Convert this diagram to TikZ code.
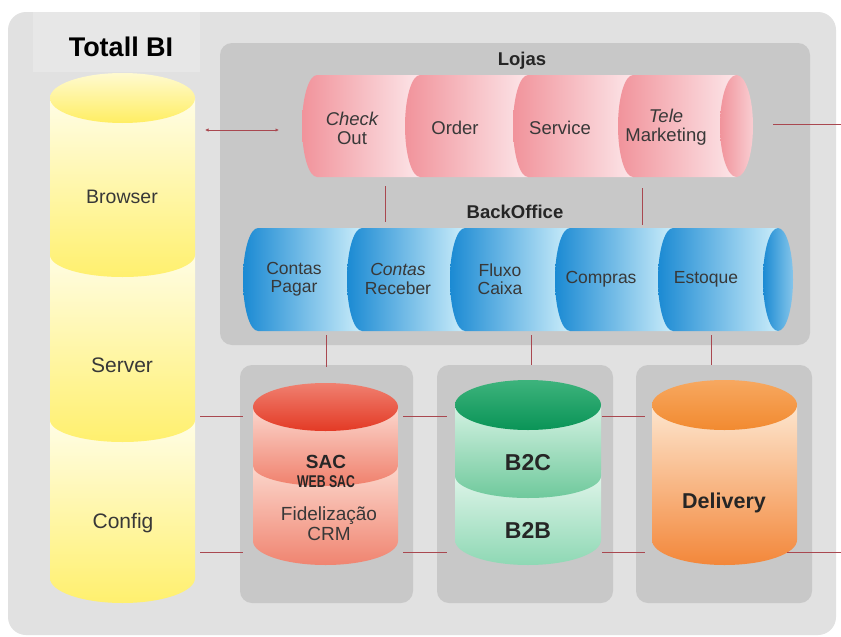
\documentclass[tikz,border=0pt]{standalone}
\usepackage{fontspec}
\setmainfont{Liberation Sans}
\usetikzlibrary{arrows.meta}
\definecolor{outerbg}{HTML}{E1E1E1}
\definecolor{labelbg}{HTML}{E7E7E7}
\definecolor{panel}{HTML}{C8C8C8}
\definecolor{linkc}{HTML}{A94850}
\definecolor{txt}{HTML}{383838}
\definecolor{pinkD}{HTML}{F1939B}
\definecolor{pinkL}{HTML}{FCE6E9}
\definecolor{blueD}{HTML}{1B8AD3}
\definecolor{blueL}{HTML}{CBEDFA}
\definecolor{yelT}{HTML}{FFFDE6}
\definecolor{yelB}{HTML}{FFF06E}
\definecolor{yelTopT}{HTML}{FFFAD0}
\definecolor{yelTopB}{HTML}{FFEE62}
\definecolor{sacLT}{HTML}{FCDCD2}
\definecolor{sacLB}{HTML}{F08470}
\definecolor{sacUT}{HTML}{FBD8CF}
\definecolor{sacUB}{HTML}{F0806C}
\definecolor{sacTT}{HTML}{F08070}
\definecolor{sacTB}{HTML}{E33A25}
\definecolor{grLT}{HTML}{E3F6EC}
\definecolor{grLB}{HTML}{8ED8B4}
\definecolor{grUT}{HTML}{D5F2E3}
\definecolor{grUB}{HTML}{6FC99C}
\definecolor{grTT}{HTML}{3DB37C}
\definecolor{grTB}{HTML}{0A9457}
\definecolor{orT}{HTML}{FDE6CF}
\definecolor{orB}{HTML}{F3873A}
\definecolor{orTT}{HTML}{F7A860}
\definecolor{orTB}{HTML}{F28A30}
\newcommand\hseg[7]{%
  \shade[left color=#6, right color=#7] ({#1+#5},#3) arc[start angle=270, end angle=90, x radius=#5, y radius={(#4-#3)/2}] -- (#2,#4) -- (#2,#3) -- cycle;}
\newcommand\vsec[7]{%
  \shade[top color=#6, bottom color=#7] ({#1-#2},#3) -- ({#1-#2},#4) arc[start angle=180, end angle=0, x radius=#2, y radius=#5] -- ({#1+#2},#3) -- cycle;}
\tikzset{
  link/.style={draw=linkc, line width=1pt},
  lbl/.style={text=txt, font=\fontsize{18.5}{19}\selectfont, align=center, inner sep=0pt},
  lblb/.style={text=txt, font=\fontsize{17.5}{18.5}\selectfont, align=center, inner sep=0pt},
  hdr/.style={text=black!85, font=\bfseries\fontsize{18.5}{19}\selectfont, inner sep=0pt},
  big/.style={text=black!85, font=\bfseries\fontsize{23}{24}\selectfont, inner sep=0pt},
}
\begin{document}
\begin{tikzpicture}[x=1pt,y=-1pt]
\useasboundingbox (0,0) rectangle (841,637);
\fill[white] (0,0) rectangle (841,637);
\fill[outerbg, rounded corners=18pt] (8,12) rectangle (836,635);
\fill[labelbg] (33,12) rectangle (200,72);
\fill[panel, rounded corners=12pt] (220,43) rectangle (810,345);
\fill[panel, rounded corners=12pt] (240,365) rectangle (413,603);
\fill[panel, rounded corners=12pt] (437,365) rectangle (613,603);
\fill[panel, rounded corners=12pt] (636,365) rectangle (812,603);

% Yellow cylinder
\vsec{122.5}{72.5}{420}{578}{25}{yelT}{yelB}
\vsec{122.5}{72.5}{250}{420}{22}{yelT}{yelB}
\vsec{122.5}{72.5}{98}{255}{22}{yelT}{yelB}
\shade[top color=yelTopT, bottom color=yelTopB] (122.5,98) ellipse [x radius=72.5, y radius=25];

% Lojas cylinder
\hseg{302}{420}{75}{177}{15}{pinkD}{pinkL}
\hseg{405}{528}{75}{177}{15}{pinkD}{pinkL}
\hseg{513}{633}{75}{177}{15}{pinkD}{pinkL}
\hseg{618}{736.5}{75}{177}{15}{pinkD}{pinkL}
\shade[left color=pinkD, right color=pinkL!70!pinkD] (736.5,126) ellipse [x radius=16.5, y radius=51];

% BackOffice cylinder
\hseg{243}{362}{228}{331}{15}{blueD}{blueL}
\hseg{347}{465}{228}{331}{15}{blueD}{blueL}
\hseg{450}{570}{228}{331}{15}{blueD}{blueL}
\hseg{555}{673}{228}{331}{15}{blueD}{blueL}
\hseg{658}{778}{228}{331}{15}{blueD}{blueL}
\shade[left color=blueD, right color=blueL!60!blueD] (778,279.5) ellipse [x radius=15, y radius=51.5];

% SAC cylinder
\vsec{325.5}{72.5}{460}{541}{24}{sacLT}{sacLB}
\vsec{325.5}{72.5}{407}{466}{20}{sacUT}{sacUB}
\shade[top color=sacTT, bottom color=sacTB] (325.5,407) ellipse [x radius=72.5, y radius=24];

% B2C cylinder
\vsec{528}{73}{470}{540}{25}{grLT}{grLB}
\vsec{528}{73}{405}{476}{22}{grUT}{grUB}
\shade[top color=grTT, bottom color=grTB] (528,405) ellipse [x radius=73, y radius=25];

% Delivery cylinder
\vsec{724.5}{72.5}{405}{540}{25}{orT}{orB}
\shade[top color=orTT, bottom color=orTB] (724.5,405) ellipse [x radius=72.5, y radius=25];

% Texts
\node[font=\bfseries\fontsize{27}{28}\selectfont, inner sep=0pt] (title) at (121,47) {Totall BI};
\node[hdr] (lojas) at (522,61) {Lojas};
\node[hdr] (backoffice) at (515,212) {BackOffice};
\node[lbl] (checkout) at (352,128) {{\itshape Check}\\Out};
\node[lbl] (order) at (455,128) {Order};
\node[lbl] (service) at (560,128) {Service};
\node[lbl] (tele) at (666,127) {{\itshape Tele}\\Marketing};
\node[lblb] (pagar) at (294,279) {Contas\\Pagar};
\node[lblb] (receber) at (398,279) {{\itshape Contas}\\Receber};
\node[lblb] (fluxo) at (500,279) {Fluxo\\Caixa};
\node[lblb] (compras) at (601,279) {Compras};
\node[lblb] (estoque) at (706,279) {Estoque};
\node[lbl, font=\fontsize{19.5}{20}\selectfont] (browser) at (122,197) {Browser};
\node[lbl, font=\fontsize{21}{22}\selectfont] (server) at (122,365) {Server};
\node[lbl, font=\fontsize{21}{22}\selectfont] (config) at (123,523) {Config};
\node[hdr, font=\bfseries\fontsize{19}{20}\selectfont] (sac) at (326,462) {SAC};
\node[hdr, font=\bfseries\fontsize{17}{18}\selectfont] (websac) at (326,482) {\scalebox{0.72}[1]{WEB SAC}};
\node[lbl, font=\fontsize{19}{20}\selectfont] (fidel) at (329,524) {Fidelização\\CRM};
\node[big] (b2c) at (528,463) {B2C};
\node[big] (b2b) at (528,530) {B2B};
\node[big, font=\bfseries\fontsize{21.5}{22}\selectfont] (delivery) at (724,503) {Delivery};

% Connector end points
\coordinate (brR) at (205,130);
\coordinate (coL) at (279,130);
\coordinate (coB) at (385,186);
\coordinate (bo1) at (385,222);
\coordinate (tmB) at (642,188);
\coordinate (bo2) at (642,225);
\coordinate (loR) at (773,124);
\coordinate (exR) at (841,124);
\coordinate (boS) at (326,335);
\coordinate (sacT) at (326,367);
\coordinate (boC) at (531,335);
\coordinate (b2cT) at (531,365);
\coordinate (boD) at (711,335);
\coordinate (delT) at (711,365);
\coordinate (yS1) at (200,416);
\coordinate (sacL1) at (243,416);
\coordinate (yS2) at (200,552);
\coordinate (sacL2) at (243,552);
\coordinate (sacR1) at (403,416);
\coordinate (b2cL1) at (447,416);
\coordinate (sacR2) at (403,552);
\coordinate (b2cL2) at (447,552);
\coordinate (b2cR1) at (602,416);
\coordinate (delL1) at (645,416);
\coordinate (b2cR2) at (602,552);
\coordinate (delL2) at (645,552);
\coordinate (delR) at (787,552);
\coordinate (exR2) at (841,552);

\draw[link, {Latex[length=3.5pt,width=3.5pt]}-{Latex[length=3.5pt,width=3.5pt]}] (brR) -- (coL);
\draw[link] (coB) -- (bo1);
\draw[link] (tmB) -- (bo2);
\draw[link] (loR) -- (exR);
\draw[link] (boS) -- (sacT);
\draw[link] (boC) -- (b2cT);
\draw[link] (boD) -- (delT);
\draw[link] (yS1) -- (sacL1);
\draw[link] (yS2) -- (sacL2);
\draw[link] (sacR1) -- (b2cL1);
\draw[link] (sacR2) -- (b2cL2);
\draw[link] (b2cR1) -- (delL1);
\draw[link] (b2cR2) -- (delL2);
\draw[link] (delR) -- (exR2);
\end{tikzpicture}
\end{document}
